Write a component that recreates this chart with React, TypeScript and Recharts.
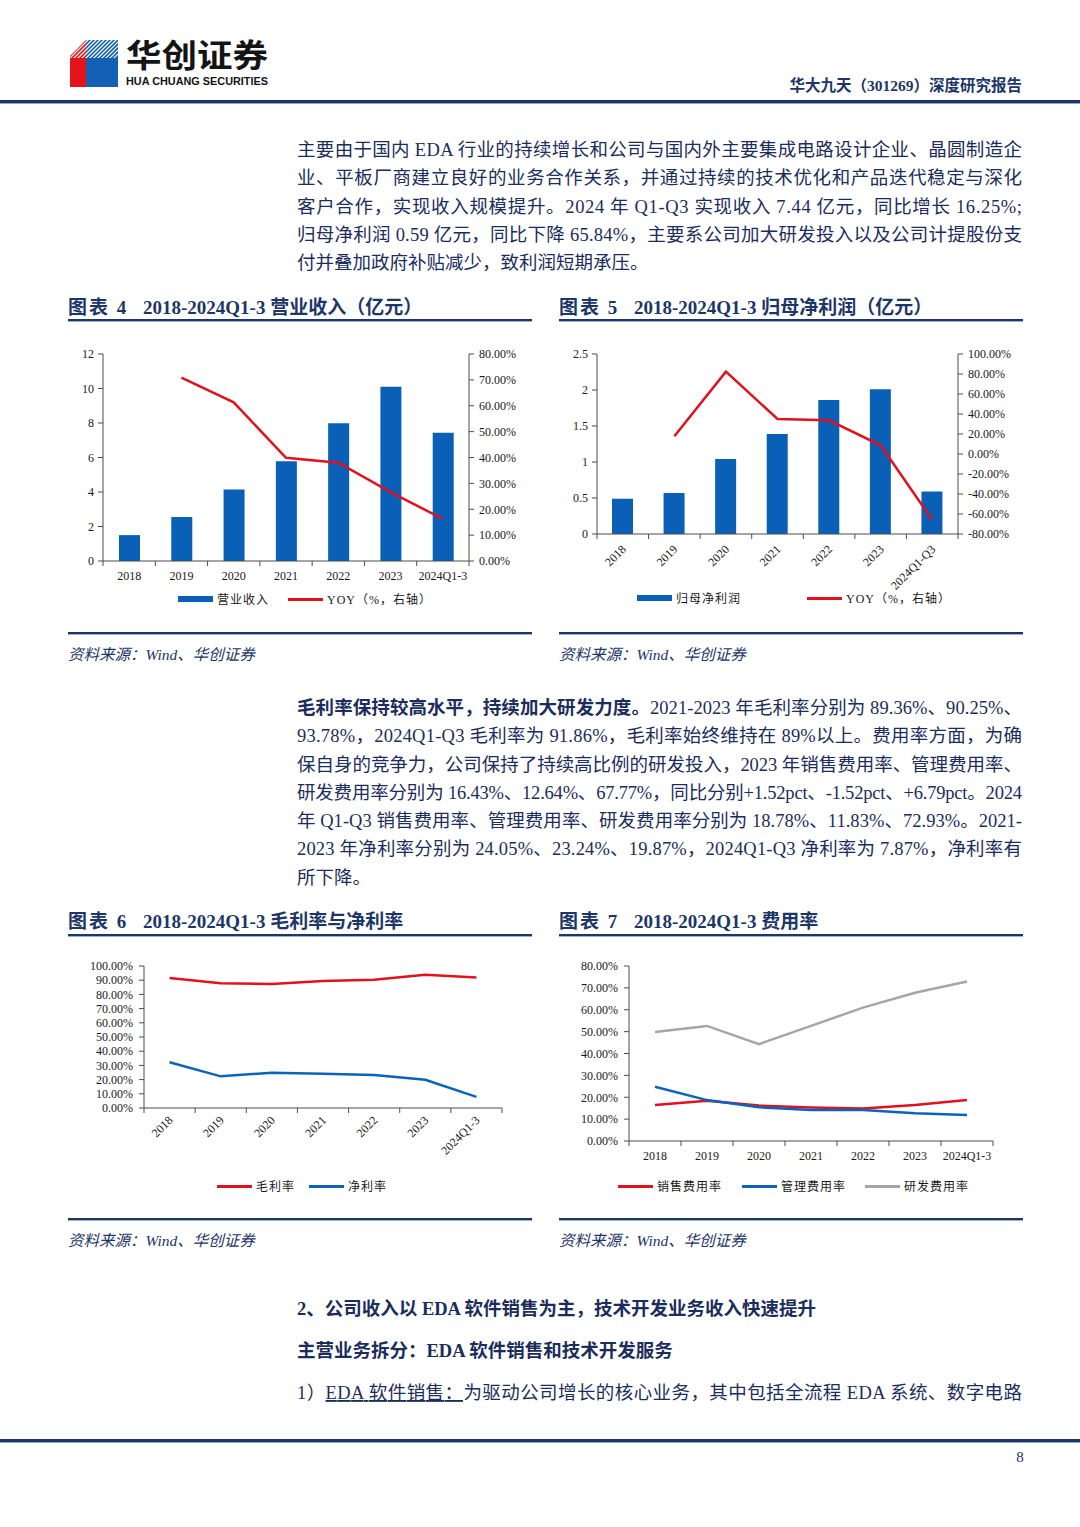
import React from 'react';
import { ComposedChart, Bar, Line, XAxis, YAxis } from 'recharts';

const SERIF = "'Liberation Serif', 'Noto Sans CJK SC', serif";
const NAVY = '#1c3668';
const TEXT = '#1b2d5c';
const AXIS = '#4d4d4d';
const TICK_TEXT = '#1a1a1a';
const BAR_BLUE = '#0a5fb6';
const LINE_RED = '#e1121d';
const LINE_BLUE = '#0b63bc';
const LINE_GREY = '#a6a6a6';

// categories
const years = ['2018', '2019', '2020', '2021', '2022', '2023', '2024Q1-3'];
const yearsProfit = ['2018', '2019', '2020', '2021', '2022', '2023', '2024Q1-Q3'];

// 图表4 营业收入（亿元）与 YOY
const revenue = [1.5, 2.55, 4.15, 5.78, 7.98, 10.1, 7.44];
const revenueYoy = [null, 70.9, 61.3, 39.9, 38.0, 26.6, 16.25];

// 图表5 归母净利润（亿元）与 YOY
const netProfit = [0.49, 0.57, 1.04, 1.39, 1.86, 2.01, 0.59];
const netProfitYoy = [null, 17.7, 82.3, 35.0, 33.7, 8.7, -65.84];

// 图表6 毛利率 / 净利率（%）
const grossMargin = [91.5, 87.8, 87.4, 89.36, 90.25, 93.78, 91.86];
const netMargin = [32.2, 22.3, 24.9, 24.05, 23.24, 19.87, 7.87];

// 图表7 费用率（%）
const salesRate = [16.5, 18.4, 16.2, 15.3, 14.91, 16.43, 18.78];
const adminRate = [24.8, 18.7, 15.4, 14.2, 14.16, 12.64, 11.83];
const rdRate = [49.8, 52.6, 44.3, 52.6, 60.98, 67.77, 72.93];

// axis ticks
const revenueTicks = [0, 2, 4, 6, 8, 10, 12];
const revenueYoyTicks = [0, 10, 20, 30, 40, 50, 60, 70, 80];
const profitTicks = [0, 0.5, 1, 1.5, 2, 2.5];
const profitYoyTicks = [-80, -60, -40, -20, 0, 20, 40, 60, 80, 100];
const marginTicks = [0, 10, 20, 30, 40, 50, 60, 70, 80, 90, 100];
const rateTicks = [0, 10, 20, 30, 40, 50, 60, 70, 80];

const revenueData = years.map((year, i) => ({ year, revenue: revenue[i], yoy: revenueYoy[i] }));
const profitData = yearsProfit.map((year, i) => ({ year, profit: netProfit[i], yoy: netProfitYoy[i] }));
const marginData = years.map((year, i) => ({ year, gross: grossMargin[i], net: netMargin[i] }));
const rateData = years.map((year, i) => ({ year, sales: salesRate[i], admin: adminRate[i], rd: rdRate[i] }));

const pct = (v: number) => `${v.toFixed(2)}%`;

const yTick = { fontSize: 12, fill: TICK_TEXT, fontFamily: SERIF };

// category ticks sit on band boundaries, labels in the band centre
const xTick = (band: number, count: number, rotate: boolean, dy: number) => (props: any) => {
  const { x, y, payload, index } = props;
  const half = band / 2;
  return (
    <g>
      <line x1={x - half} y1={y} x2={x - half} y2={y + 5} stroke={AXIS} />
      {index === count - 1 && <line x1={x + half} y1={y} x2={x + half} y2={y + 5} stroke={AXIS} />}
      {rotate ? (
        <text
          x={x + 4}
          y={y + dy}
          textAnchor="end"
          transform={`rotate(-45 ${x + 4} ${y + dy})`}
          fontSize={12}
          fontFamily={SERIF}
          fill={TICK_TEXT}
        >
          {payload.value}
        </text>
      ) : (
        <text x={x} y={y + dy} textAnchor="middle" fontSize={12} fontFamily={SERIF} fill={TICK_TEXT}>
          {payload.value}
        </text>
      )}
    </g>
  );
};

const LegendItem = ({ left, top, color, bar, label }: { left: number; top: number; color: string; bar?: boolean; label: string }) => (
  <div style={{ position: 'absolute', left, top: top - 9, height: 18, display: 'flex', alignItems: 'center' }}>
    <div style={{ width: 35, height: bar ? 6 : 3, background: color }} />
    <span style={{ marginLeft: 4, fontSize: 12, letterSpacing: 1, fontFamily: SERIF, color: TICK_TEXT, whiteSpace: 'nowrap' }}>
      {label}
    </span>
  </div>
);

const Rule = ({ left, top, width }: { left: number; top: number; width: number }) => (
  <div style={{ position: 'absolute', left, top, width }}>
    <div style={{ height: 2, background: NAVY }} />
    <div style={{ height: 1, background: '#9bb0d3' }} />
  </div>
);

const FigureTitle = ({ left, top, num, text }: { left: number; top: number; num: number; text: string }) => (
  <div
    style={{
      position: 'absolute',
      left,
      top,
      height: 24,
      display: 'flex',
      alignItems: 'center',
      fontFamily: SERIF,
      fontWeight: 700,
      fontSize: 19,
      color: NAVY,
      whiteSpace: 'nowrap',
    }}
  >
    <span style={{ width: 75, letterSpacing: 2 }}>图表 {num}</span>
    <span>{text}</span>
  </div>
);

const Source = ({ left, top }: { left: number; top: number }) => (
  <div style={{ position: 'absolute', left, top, fontFamily: SERIF, fontStyle: 'italic', fontSize: 15.5, color: NAVY, whiteSpace: 'nowrap' }}>
    资料来源：Wind、华创证券
  </div>
);

const BodyLine = ({ y, full = true, children }: { y: number; full?: boolean; children: React.ReactNode }) =>
  full ? (
    <text x={297} y={y + 7} fontSize={18.5} fill={TEXT} fontFamily={SERIF} textLength={725} lengthAdjust="spacing">
      {children}
    </text>
  ) : (
    <text x={297} y={y + 7} fontSize={18.5} fill={TEXT} fontFamily={SERIF}>
      {children}
    </text>
  );

const RevenueChart = () => (
  <div style={{ position: 'absolute', left: 60, top: 340 }}>
    <ComposedChart width={480} height={250} data={revenueData} margin={{ top: 14, right: 0, bottom: 0, left: 0 }}>
      <XAxis
        dataKey="year"
        scale="band"
        interval={0}
        height={29}
        tickLine={false}
        tickSize={0}
        tickMargin={0}
        axisLine={{ stroke: AXIS }}
        tick={xTick(366 / 7, 7, false, 19)}
      />
      <YAxis yAxisId="left" domain={[0, 12]} ticks={revenueTicks} interval={0} width={43} tick={yTick} tickSize={5} tickMargin={4} axisLine={{ stroke: AXIS }} tickLine={{ stroke: AXIS }} />
      <YAxis yAxisId="right" orientation="right" domain={[0, 80]} ticks={revenueYoyTicks} interval={0} width={71} tick={yTick} tickSize={5} tickMargin={5} tickFormatter={pct} axisLine={{ stroke: AXIS }} tickLine={{ stroke: AXIS }} />
      <Bar yAxisId="left" dataKey="revenue" fill={BAR_BLUE} barSize={21} isAnimationActive={false} />
      <Line yAxisId="right" dataKey="yoy" stroke={LINE_RED} strokeWidth={2.5} dot={false} isAnimationActive={false} />
    </ComposedChart>
    <LegendItem left={118} top={259} color={BAR_BLUE} bar label="营业收入" />
    <LegendItem left={228} top={259} color={LINE_RED} label="YOY（%，右轴）" />
  </div>
);

const ProfitChart = () => (
  <div style={{ position: 'absolute', left: 555, top: 340 }}>
    <ComposedChart width={480} height={254} data={profitData} margin={{ top: 14, right: 0, bottom: 0, left: 0 }}>
      <XAxis
        dataKey="year"
        scale="band"
        interval={0}
        height={60}
        tickLine={false}
        tickSize={0}
        tickMargin={0}
        axisLine={{ stroke: AXIS }}
        tick={xTick(361 / 7, 7, true, 16)}
      />
      <YAxis yAxisId="left" domain={[0, 2.5]} ticks={profitTicks} interval={0} width={42} tick={yTick} tickSize={5} tickMargin={4} axisLine={{ stroke: AXIS }} tickLine={{ stroke: AXIS }} />
      <YAxis yAxisId="right" orientation="right" domain={[-80, 100]} ticks={profitYoyTicks} interval={0} width={77} tick={yTick} tickSize={5} tickMargin={5} tickFormatter={pct} axisLine={{ stroke: AXIS }} tickLine={{ stroke: AXIS }} />
      <Bar yAxisId="left" dataKey="profit" fill={BAR_BLUE} barSize={21} isAnimationActive={false} />
      <Line yAxisId="right" dataKey="yoy" stroke={LINE_RED} strokeWidth={2.5} dot={false} isAnimationActive={false} />
    </ComposedChart>
    <LegendItem left={82} top={258} color={BAR_BLUE} bar label="归母净利润" />
    <LegendItem left={252} top={258} color={LINE_RED} label="YOY（%，右轴）" />
  </div>
);

const MarginChart = () => (
  <div style={{ position: 'absolute', left: 60, top: 955 }}>
    <ComposedChart width={480} height={213} data={marginData} margin={{ top: 11, right: 38, bottom: 0, left: 0 }}>
      <XAxis
        dataKey="year"
        scale="band"
        interval={0}
        height={60}
        tickLine={false}
        tickSize={0}
        tickMargin={0}
        axisLine={{ stroke: AXIS }}
        tick={xTick(358 / 7, 7, true, 13)}
      />
      <YAxis domain={[0, 100]} ticks={marginTicks} interval={0} width={84} tick={yTick} tickSize={5} tickMargin={6} tickFormatter={pct} axisLine={{ stroke: AXIS }} tickLine={{ stroke: AXIS }} />
      <Line dataKey="gross" stroke={LINE_RED} strokeWidth={2.5} dot={false} isAnimationActive={false} />
      <Line dataKey="net" stroke={LINE_BLUE} strokeWidth={2.5} dot={false} isAnimationActive={false} />
    </ComposedChart>
    <LegendItem left={157} top={231} color={LINE_RED} label="毛利率" />
    <LegendItem left={249} top={231} color={LINE_BLUE} label="净利率" />
  </div>
);

const RateChart = () => (
  <div style={{ position: 'absolute', left: 555, top: 955 }}>
    <ComposedChart width={480} height={211} data={rateData} margin={{ top: 11, right: 42, bottom: 0, left: 0 }}>
      <XAxis
        dataKey="year"
        scale="band"
        interval={0}
        height={25}
        tickLine={false}
        tickSize={0}
        tickMargin={0}
        axisLine={{ stroke: AXIS }}
        tick={xTick(364 / 7, 7, false, 19)}
      />
      <YAxis domain={[0, 80]} ticks={rateTicks} interval={0} width={74} tick={yTick} tickSize={5} tickMargin={6} tickFormatter={pct} axisLine={{ stroke: AXIS }} tickLine={{ stroke: AXIS }} />
      <Line dataKey="sales" stroke={LINE_RED} strokeWidth={2.5} dot={false} isAnimationActive={false} />
      <Line dataKey="admin" stroke={LINE_BLUE} strokeWidth={2.5} dot={false} isAnimationActive={false} />
      <Line dataKey="rd" stroke={LINE_GREY} strokeWidth={2.5} dot={false} isAnimationActive={false} />
    </ComposedChart>
    <LegendItem left={63} top={231} color={LINE_RED} label="销售费用率" />
    <LegendItem left={187} top={231} color={LINE_BLUE} label="管理费用率" />
    <LegendItem left={310} top={231} color={LINE_GREY} label="研发费用率" />
  </div>
);

const Header = () => (
  <svg style={{ position: 'absolute', left: 0, top: 0 }} width={1080} height={110}>
    <defs>
      <clipPath id="logoTop">
        <polygon points="70,56 86,40 118,40 118,58 70,58" />
      </clipPath>
    </defs>
    <polygon points="70,56 86,40 86,87 70,87" fill="#e3141b" />
    <rect x={86} y={40} width={32} height={47} fill="#1261b4" />
    <g clipPath="url(#logoTop)" stroke="#ffffff" strokeWidth={1.2}>
      {[0, 4, 8, 12, 16, 20, 24, 28, 32, 36, 40, 44, 48].map((d) => (
        <line key={d} x1={62 + d} y1={62} x2={86 + d} y2={38} />
      ))}
    </g>
    <text x={126} y={67} fontSize={32} fontWeight={700} fill="#141414" fontFamily="'Noto Sans CJK SC', sans-serif" textLength={142} lengthAdjust="spacingAndGlyphs">
      华创证券
    </text>
    <text x={126} y={85} fontSize={11} fontWeight={700} fill="#141414" fontFamily="'Liberation Sans', sans-serif" textLength={142} lengthAdjust="spacingAndGlyphs">
      HUA CHUANG SECURITIES
    </text>
    <text x={1022} y={91} textAnchor="end" fontSize={15.5} fontWeight={700} fill={NAVY} fontFamily={SERIF}>
      华大九天（301269）深度研究报告
    </text>
    <rect x={0} y={100} width={1080} height={3} fill={NAVY} />
    <rect x={0} y={103} width={1080} height={1} fill="#8ea6cf" />
  </svg>
);

export default function App() {
  return (
    <div style={{ position: 'absolute', left: 0, top: 0, width: 1080, height: 1527, background: '#ffffff', overflow: 'hidden' }}>
      <style>{'body{margin:0}'}</style>
      <Header />

      <svg style={{ position: 'absolute', left: 0, top: 0 }} width={1080} height={1527}>
        <BodyLine y={149}>主要由于国内 EDA 行业的持续增长和公司与国内外主要集成电路设计企业、晶圆制造企</BodyLine>
        <BodyLine y={177}>业、平板厂商建立良好的业务合作关系，并通过持续的技术优化和产品迭代稳定与深化</BodyLine>
        <BodyLine y={206}>客户合作，实现收入规模提升。2024 年 Q1-Q3 实现收入 7.44 亿元，同比增长 16.25%;</BodyLine>
        <BodyLine y={234}>归母净利润 0.59 亿元，同比下降 65.84%，主要系公司加大研发投入以及公司计提股份支</BodyLine>
        <BodyLine y={262} full={false}>付并叠加政府补贴减少，致利润短期承压。</BodyLine>

        <BodyLine y={707}>
          <tspan fontWeight={700}>毛利率保持较高水平，持续加大研发力度。</tspan>2021-2023 年毛利率分别为 89.36%、90.25%、
        </BodyLine>
        <BodyLine y={735}>93.78%，2024Q1-Q3 毛利率为 91.86%，毛利率始终维持在 89%以上。费用率方面，为确</BodyLine>
        <BodyLine y={764}>保自身的竞争力，公司保持了持续高比例的研发投入，2023 年销售费用率、管理费用率、</BodyLine>
        <BodyLine y={792}>研发费用率分别为 16.43%、12.64%、67.77%，同比分别+1.52pct、-1.52pct、+6.79pct。2024</BodyLine>
        <BodyLine y={820}>年 Q1-Q3 销售费用率、管理费用率、研发费用率分别为 18.78%、11.83%、72.93%。2021-</BodyLine>
        <BodyLine y={848}>2023 年净利率分别为 24.05%、23.24%、19.87%，2024Q1-Q3 净利率为 7.87%，净利率有</BodyLine>
        <BodyLine y={877} full={false}>所下降。</BodyLine>

        <text x={297} y={1315} fontSize={18.5} fontWeight={700} fill={TEXT} fontFamily={SERIF}>
          2、公司收入以 EDA 软件销售为主，技术开发业务收入快速提升
        </text>
        <text x={297} y={1357} fontSize={18.5} fontWeight={700} fill={TEXT} fontFamily={SERIF}>
          主营业务拆分：EDA 软件销售和技术开发服务
        </text>
        <BodyLine y={1392}>
          1）<tspan textDecoration="underline">EDA 软件销售：</tspan>为驱动公司增长的核心业务，其中包括全流程 EDA 系统、数字电路
        </BodyLine>

        <rect x={0} y={1439} width={1080} height={3} fill={NAVY} />
        <rect x={0} y={1442} width={1080} height={1} fill="#8ea6cf" />
        <text x={1020} y={1462} textAnchor="middle" fontSize={15} fill={NAVY} fontFamily={SERIF}>
          8
        </text>
      </svg>

      <FigureTitle left={68} top={293} num={4} text="2018-2024Q1-3 营业收入（亿元）" />
      <FigureTitle left={559} top={293} num={5} text="2018-2024Q1-3 归母净利润（亿元）" />
      <Rule left={68} top={319} width={464} />
      <Rule left={559} top={319} width={464} />
      <RevenueChart />
      <ProfitChart />
      <Rule left={68} top={632} width={464} />
      <Rule left={559} top={632} width={464} />
      <Source left={68} top={642} />
      <Source left={559} top={642} />

      <FigureTitle left={68} top={907} num={6} text="2018-2024Q1-3 毛利率与净利率" />
      <FigureTitle left={559} top={907} num={7} text="2018-2024Q1-3 费用率" />
      <Rule left={68} top={934} width={464} />
      <Rule left={559} top={934} width={464} />
      <MarginChart />
      <RateChart />
      <Rule left={68} top={1218} width={464} />
      <Rule left={559} top={1218} width={464} />
      <Source left={68} top={1228} />
      <Source left={559} top={1228} />
    </div>
  );
}
